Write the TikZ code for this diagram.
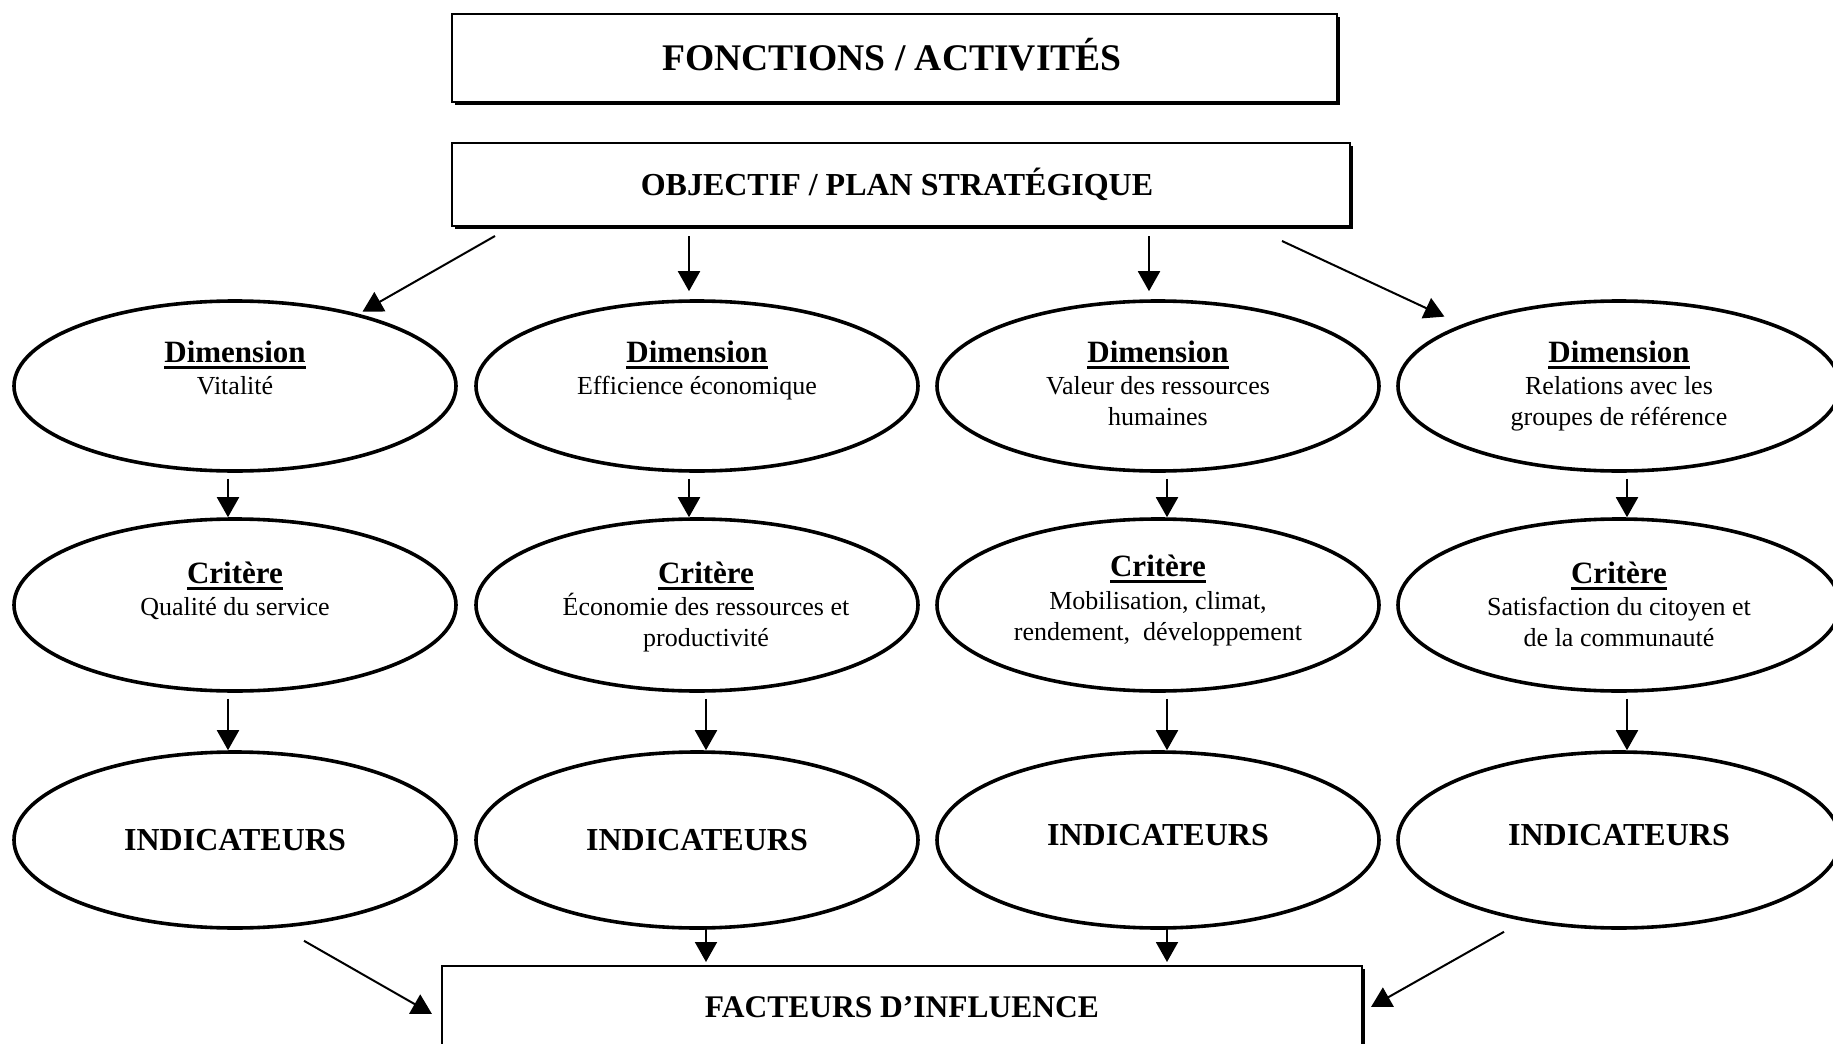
\documentclass[tikz,border=0pt]{standalone}
\usepackage{fontspec}
\setmainfont{Liberation Serif}
\usetikzlibrary{arrows.meta,shadows,shapes.geometric}
\newcommand\myul[1]{\setbox0\hbox{#1}\rlap{\rule[-3.6pt]{\wd0}{1.5pt}}\box0}
\begin{document}
\begin{tikzpicture}[x=0.5pt,y=-0.5pt,
  bx/.style={draw, line width=1pt, fill=white, inner sep=0,
    drop shadow={shadow xshift=1.5pt,shadow yshift=-1.5pt,fill=black,opacity=1}},
  el/.style={draw, ellipse, line width=1.8pt, inner sep=0, minimum width=221pt, minimum height=85pt},
  arr/.style={line width=1pt, -{Triangle[length=10pt,width=11pt]}},
  hd/.style={anchor=base, inner sep=0, font=\fontsize{15.5}{18}\selectfont\bfseries},
  tx/.style={anchor=base, inner sep=0, font=\fontsize{13}{15.5}\selectfont},
  big/.style={anchor=base, inner sep=0, font=\fontsize{16}{19}\selectfont\bfseries}]
\useasboundingbox (0,0) rectangle (1833,1044);
\clip (0,0) rectangle (1833,1044);
% boxes
\node[bx, minimum width=442.5pt, minimum height=44pt] (fonc) at (894.5,58) {};
\node[big, font=\fontsize{18.8}{22}\selectfont\bfseries] (foncT) at (892,70) {FONCTIONS / ACTIVITÉS};
\node[bx, minimum width=449pt, minimum height=41.5pt] (obj) at (901,184.5) {};
\node[big] (objT) at (897,195) {OBJECTIF / PLAN STRATÉGIQUE};
\node[bx, minimum width=460pt, minimum height=52pt] (fact) at (902,1018) {};
\node[big, font=\fontsize{15.75}{19}\selectfont\bfseries] (factT) at (902,1017) {FACTEURS D’INFLUENCE};
% ellipses
\foreach \n/\x in {1/235,2/697,3/1158,4/1619}{
  \node[el] (d\n) at (\x,386) {};
  \node[el, minimum height=86pt] (c\n) at (\x,605) {};
  \node[el, minimum height=88pt] (i\n) at (\x,840) {};
}
% Dimension texts
\node[hd] (d1h) at (235,362) {\myul{Dimension}};
\node[tx] (d1a) at (235,394) {Vitalité};
\node[hd] (d2h) at (697,362) {\myul{Dimension}};
\node[tx] (d2a) at (697,394) {Efficience économique};
\node[hd] (d3h) at (1158,362) {\myul{Dimension}};
\node[tx] (d3a) at (1158,394) {Valeur des ressources};
\node[tx] (d3b) at (1158,425) {humaines};
\node[hd] (d4h) at (1619,362) {\myul{Dimension}};
\node[tx] (d4a) at (1619,394) {Relations avec les};
\node[tx] (d4b) at (1619,425) {groupes de référence};
% Critere texts
\node[hd] (c1h) at (235,583) {\myul{Critère}};
\node[tx] (c1a) at (235,615) {Qualité du service};
\node[hd] (c2h) at (706,583) {\myul{Critère}};
\node[tx] (c2a) at (706,615) {Économie des ressources et};
\node[tx] (c2b) at (706,646) {productivité};
\node[hd] (c3h) at (1158,576) {\myul{Critère}};
\node[tx] (c3a) at (1158,609) {Mobilisation, climat,};
\node[tx] (c3b) at (1158,640) {rendement,\ \ développement};
\node[hd] (c4h) at (1619,583) {\myul{Critère}};
\node[tx] (c4a) at (1619,615) {Satisfaction du citoyen et};
\node[tx] (c4b) at (1619,646) {de la communauté};
% Indicateurs
\node[big] (i1t) at (235,850) {INDICATEURS};
\node[big] (i2t) at (697,850) {INDICATEURS};
\node[big] (i3t) at (1158,845) {INDICATEURS};
\node[big] (i4t) at (1619,845) {INDICATEURS};
% arrows from objective
\draw[arr] ([shift={(44,9)}]obj.south west) -- ([shift={(-30,-13)}]d1.north east);
\draw[arr] ([shift={(-212,9)}]obj.south) -- ([shift={(-8,-8)}]d2.north);
\draw[arr] ([shift={(248,9)}]obj.south) -- ([shift={(-9,-8)}]d3.north);
\draw[arr] ([shift={(-69,14)}]obj.south east) -- ([shift={(-17,-8)}]d4.north west);
% dimension -> critere
\draw[arr] ([shift={(-7,6)}]d1.south) -- ([shift={(-7,0)}]c1.north);
\draw[arr] ([shift={(-8,6)}]d2.south) -- ([shift={(-8,0)}]c2.north);
\draw[arr] ([shift={(9,6)}]d3.south) -- ([shift={(9,0)}]c3.north);
\draw[arr] ([shift={(8,6)}]d4.south) -- ([shift={(8,0)}]c4.north);
% critere -> indicateurs
\draw[arr] ([shift={(-7,6)}]c1.south) -- ([shift={(-7,0)}]i1.north);
\draw[arr] ([shift={(9,6)}]c2.south) -- ([shift={(9,0)}]i2.north);
\draw[arr] ([shift={(9,6)}]c3.south) -- ([shift={(9,0)}]i3.north);
\draw[arr] ([shift={(8,6)}]c4.south) -- ([shift={(8,0)}]i4.north);
% indicateurs -> facteurs
\draw[arr] ([shift={(69,11)}]i1.south) -- ([shift={(-9,49)}]fact.north west);
\draw[arr] ([shift={(9,-2)}]i2.south) -- ([shift={(-196,-3)}]fact.north);
\draw[arr] ([shift={(9,-2)}]i3.south) -- ([shift={(265,-3)}]fact.north);
\draw[arr] ([shift={(-115,2)}]i4.south) -- ([shift={(8,42)}]fact.north east);
\end{tikzpicture}
\end{document}
